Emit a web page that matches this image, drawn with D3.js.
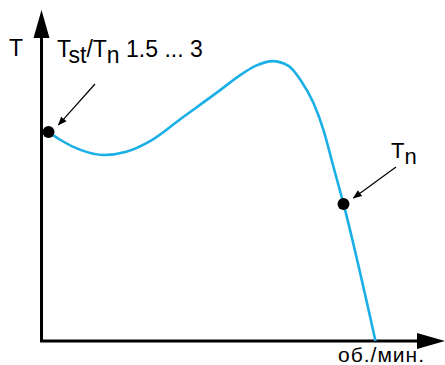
<!DOCTYPE html>
<html>
<head>
<meta charset="utf-8">
<script src="https://cdn.jsdelivr.net/npm/d3@7"></script>
<style>
  body { margin: 0; background: #fff; }
  svg { display: block; font-family: "Liberation Sans", Arial, sans-serif; }
</style>
</head>
<body>
<svg id="chart" width="445" height="365"></svg>
<script>
// speed (% of axis) and torque (% of axis)
var speed  = [1.75, 4.75, 9.75, 15.5, 21, 27.25, 34.75, 44.75, 49.75, 53.5, 57.75, 61.75, 64.75, 68, 70.5, 73, 75.5, 83.5];
var torque = [69.7, 67, 63.7, 62, 63, 66.7, 74, 83.7, 88.7, 91.7, 93.3, 91.7, 87, 79.3, 70.3, 58, 45.7, 0];
// marked points: starting torque and nominal torque
var markSpeed  = [1.75, 75.5];
var markTorque = [69.7, 45.7];
var xLabel = "об./мин.";
var yLabel = "T";

var svg = d3.select("#chart");
var x = d3.scaleLinear().domain([0, 100]).range([41.5, 441.5]);
var y = d3.scaleLinear().domain([0, 100]).range([341, 41]);

var pts = speed.map((s, i) => [s, torque[i]]);

// axes
svg.append("line")
  .attr("x1", x(0)).attr("y1", y(0)).attr("x2", x(0)).attr("y2", 30)
  .attr("stroke", "#000").attr("stroke-width", 3);
svg.append("line")
  .attr("x1", x(0) - 1.5).attr("y1", y(0)).attr("x2", 420).attr("y2", y(0))
  .attr("stroke", "#000").attr("stroke-width", 3);
svg.append("path")
  .attr("d", "M" + x(0) + ",10 L" + (x(0) + 8) + ",38 L" + (x(0) - 8) + ",38 Z")
  .attr("fill", "#000");
svg.append("path")
  .attr("d", "M445," + y(0) + " L417," + (y(0) - 8) + " L417," + (y(0) + 8) + " Z")
  .attr("fill", "#000");

// curve
svg.append("path")
  .datum(pts)
  .attr("fill", "none")
  .attr("stroke", "#1aafe6")
  .attr("stroke-width", 2.6)
  .attr("d", d3.line().x(d => x(d[0])).y(d => y(d[1])).curve(d3.curveMonotoneX));

// dots
svg.selectAll(".dot")
  .data(markSpeed)
  .enter().append("circle")
  .attr("cx", (d, i) => x(d))
  .attr("cy", (d, i) => y(markTorque[i]))
  .attr("r", 6)
  .attr("fill", "#000");

// annotation arrows
svg.append("defs").append("marker")
  .attr("id", "ah").attr("viewBox", "0 0 10 10")
  .attr("refX", 9).attr("refY", 5)
  .attr("markerWidth", 9).attr("markerHeight", 9)
  .attr("markerUnits", "userSpaceOnUse")
  .attr("orient", "auto")
  .append("path").attr("d", "M0,1 L10,5 L0,9 Z").attr("fill", "#000");

svg.append("line")
  .attr("x1", 95).attr("y1", 84).attr("x2", x(markSpeed[0]) + 10).attr("y2", y(markTorque[0]) - 7)
  .attr("stroke", "#000").attr("stroke-width", 1.2).attr("marker-end", "url(#ah)");
svg.append("line")
  .attr("x1", 396).attr("y1", 167).attr("x2", x(markSpeed[1]) + 10).attr("y2", y(markTorque[1]) - 6)
  .attr("stroke", "#000").attr("stroke-width", 1.2).attr("marker-end", "url(#ah)");

// labels
svg.append("text").attr("x", 9).attr("y", 56)
  .attr("font-size", 23).text(yLabel);

var t1 = svg.append("text").attr("x", 57).attr("y", 57).attr("font-size", 23);
t1.append("tspan").text("T");
t1.append("tspan").attr("dy", 6).text("st");
t1.append("tspan").attr("dy", -6).text("/T");
t1.append("tspan").attr("dy", 6).text("n");
t1.append("tspan").attr("dy", -6).text(" 1.5 ... 3");

var t2 = svg.append("text").attr("x", 391).attr("y", 158).attr("font-size", 22);
t2.append("tspan").text("T");
t2.append("tspan").attr("dy", 6).text("n");

svg.append("text").attr("x", 338).attr("y", 362)
  .attr("font-size", 21).attr("letter-spacing", 1).text(xLabel);
</script>
</body>
</html>
